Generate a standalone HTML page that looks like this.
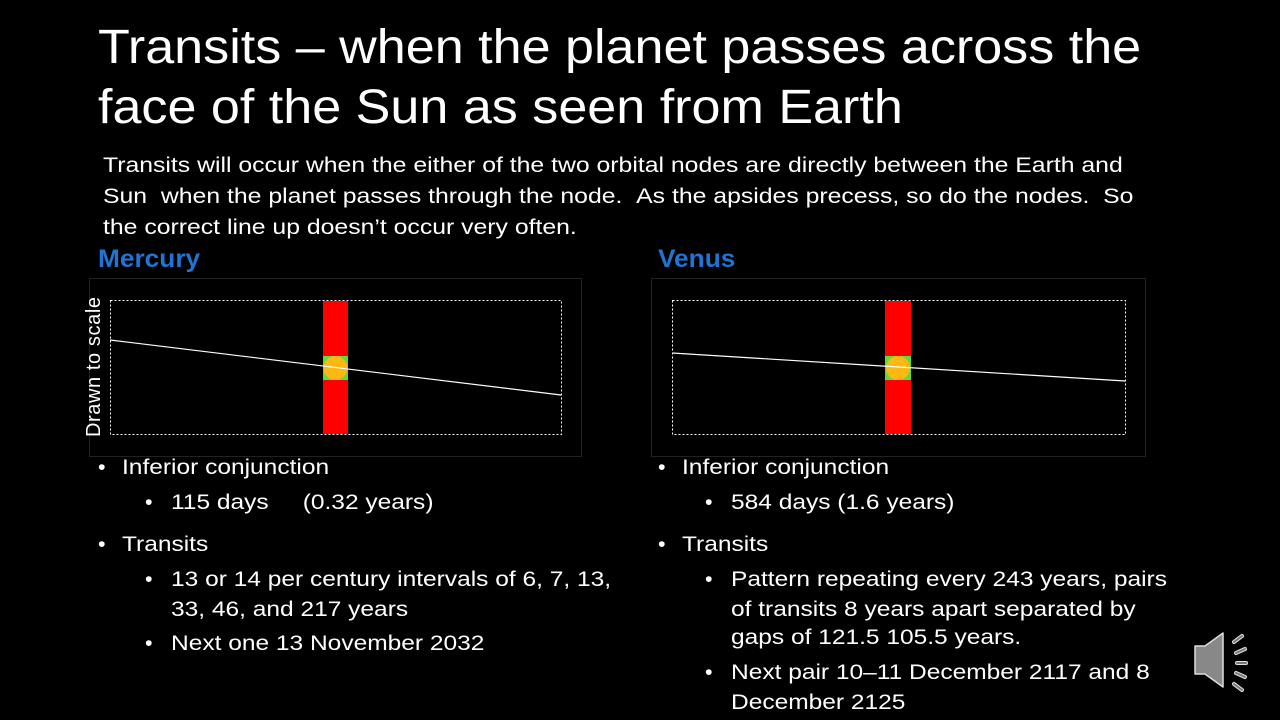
<!DOCTYPE html>
<html><head><style>
body{margin:0;width:1280px;height:720px;background:#000;overflow:hidden;position:relative;font-family:"Liberation Sans",sans-serif;color:#fff}
.a{position:absolute;white-space:nowrap;transform-origin:0 0}
.t{font-size:48px;line-height:60px;left:98px;top:18px;transform:scaleX(1.085)}
.p{font-size:21px;line-height:31px;left:103px;top:150px;transform:scaleX(1.18)}
.h{font-size:25px;font-weight:bold;color:#1f74d4;transform:scaleX(1.05)}
.b{font-size:21.5px;line-height:30px;transform:scaleX(1.14)}
.bl{font-size:21.5px;line-height:30px}
</style></head><body>
<div class="a t">Transits – when the planet passes across the<br>face of the Sun as seen from Earth</div>
<div class="a p">Transits will occur when the either of the two orbital nodes are directly between the Earth and<br>Sun &nbsp;when the planet passes through the node. &nbsp;As the apsides precess, so do the nodes. &nbsp;So<br>the correct line up doesn’t occur very often.</div>
<div class="a h" style="left:98px;top:245px">Mercury</div>
<div class="a h" style="left:658px;top:245px">Venus</div>
<svg class="a" style="left:0;top:0" width="1280" height="720">
<rect x="89.5" y="278.5" width="492" height="178" fill="none" stroke="#222"/>
<rect x="110.5" y="300.5" width="451" height="134" fill="none" stroke="#fff" stroke-dasharray="2,2"/>
<rect x="323" y="301" width="25" height="133" fill="#f00"/>
<rect x="323" y="356" width="25" height="24" fill="#5ddc3c"/>
<circle cx="335.5" cy="368" r="12" fill="#fdb813"/>
<line x1="110" y1="340" x2="561" y2="395" stroke="#fff" stroke-width="1.2"/>
<text x="100" y="437" transform="rotate(-90 100 437)" font-size="20" fill="#fff" font-family="Liberation Sans" textLength="140">Drawn to scale</text>
<rect x="651.5" y="278.5" width="494" height="178" fill="none" stroke="#222"/>
<rect x="672.5" y="300.5" width="453" height="134" fill="none" stroke="#fff" stroke-dasharray="2,2"/>
<rect x="885" y="301" width="26" height="133" fill="#f00"/>
<rect x="885" y="356" width="26" height="24" fill="#5ddc3c"/>
<circle cx="898" cy="368" r="12" fill="#fdb813"/>
<line x1="672" y1="353" x2="1125" y2="381" stroke="#fff" stroke-width="1.2"/>
<g transform="translate(1193,632)">
<path d="M2 14 H12 L30 1 V55 L12 42 H2 Z" fill="#888" stroke="#ddd" stroke-width="1.5" stroke-linejoin="round"/>
<g stroke="#ddd" stroke-width="4" stroke-linecap="round"><line x1="41" y1="10" x2="49" y2="4"/><line x1="43" y1="21" x2="52" y2="17"/><line x1="44" y1="31" x2="53" y2="31"/><line x1="43" y1="41" x2="52" y2="45"/><line x1="41" y1="52" x2="49" y2="58"/></g>
<g stroke="#777" stroke-width="2" stroke-linecap="round"><line x1="41" y1="10" x2="49" y2="4"/><line x1="43" y1="21" x2="52" y2="17"/><line x1="44" y1="31" x2="53" y2="31"/><line x1="43" y1="41" x2="52" y2="45"/><line x1="41" y1="52" x2="49" y2="58"/></g>
</g>
</svg>
<div class="a bl" style="left:98px;top:452px">•</div><div class="a b" style="left:122px;top:452px">Inferior conjunction</div>
<div class="a bl" style="left:145px;top:487px">•</div><div class="a b" style="left:171px;top:487px">115 days &nbsp;&nbsp;&nbsp;&nbsp;(0.32 years)</div>
<div class="a bl" style="left:98px;top:529px">•</div><div class="a b" style="left:122px;top:529px">Transits</div>
<div class="a bl" style="left:145px;top:564px">•</div><div class="a b" style="left:171px;top:564px">13 or 14 per century intervals of 6, 7, 13,</div>
<div class="a b" style="left:171px;top:594px">33, 46, and 217 years</div>
<div class="a bl" style="left:145px;top:628px">•</div><div class="a b" style="left:171px;top:628px">Next one 13 November 2032</div>
<div class="a bl" style="left:658px;top:452px">•</div><div class="a b" style="left:682px;top:452px">Inferior conjunction</div>
<div class="a bl" style="left:705px;top:487px">•</div><div class="a b" style="left:731px;top:487px">584 days (1.6 years)</div>
<div class="a bl" style="left:658px;top:529px">•</div><div class="a b" style="left:682px;top:529px">Transits</div>
<div class="a bl" style="left:705px;top:564px">•</div><div class="a b" style="left:731px;top:564px">Pattern repeating every 243 years, pairs</div>
<div class="a b" style="left:731px;top:594px">of transits 8 years apart separated by</div>
<div class="a b" style="left:731px;top:622px">gaps of 121.5 105.5 years.</div>
<div class="a bl" style="left:705px;top:657px">•</div><div class="a b" style="left:731px;top:657px">Next pair 10–11 December 2117 and 8</div>
<div class="a b" style="left:731px;top:687px">December 2125</div>
</body></html>
